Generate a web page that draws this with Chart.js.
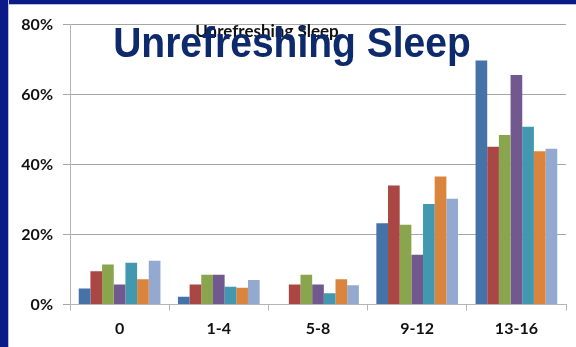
<!DOCTYPE html>
<html>
<head>
<meta charset="utf-8">
<script src="https://cdn.jsdelivr.net/npm/chart.js@4.4.1/dist/chart.umd.min.js"></script>
<style>
  html, body { margin: 0; padding: 0; background: #fff; }
  #wrap { position: relative; width: 576px; height: 347px; overflow: hidden; }
  #myChart { position: absolute; left: 0; top: 0; }
  .ramLavo { position: absolute; left: 0; top: 0; width: 8px; height: 347px; background: #0a1a86; border-right: 1px solid #b8bce0; }
  .ramHore { position: absolute; left: 0; top: 0; width: 576px; height: 4px; background: #0a1a86; border-bottom: 1px solid #b8bce0; }
</style>
</head>
<body>
<div id="wrap">
  <canvas id="myChart" width="576" height="347"></canvas>
  <div class="ramHore"></div>
  <div class="ramLavo"></div>
</div>
<script>
// Kategórie (počet bodov) a hodnoty v percentách odčítané z obrázka
const kategorie = ["0", "1-4", "5-8", "9-12", "13-16"];
const seria1 = [4.6, 2.2, 0, 23.2, 69.7];
const seria2 = [9.5, 5.7, 5.7, 34.0, 45.1];
const seria3 = [11.4, 8.5, 8.5, 22.8, 48.4];
const seria4 = [5.7, 8.5, 5.7, 14.2, 65.6];
const seria5 = [11.9, 5.1, 3.2, 28.7, 50.8];
const seria6 = [7.2, 4.8, 7.2, 36.6, 43.8];
const seria7 = [12.5, 7.0, 5.5, 30.2, 44.5];
const nazvySerii = ["Séria 1", "Séria 2", "Séria 3", "Séria 4", "Séria 5", "Séria 6", "Séria 7"];
const yTicky = [0, 20, 40, 60, 80];

const farby = ["#4572A7", "#AA4643", "#89A54E", "#71588F", "#4198AF", "#DB843D", "#93A9CF"];
const hodnoty = [seria1, seria2, seria3, seria4, seria5, seria6, seria7];

// Nadpisy cez vlastný plugin (malý nadpis grafu + veľký nadpis snímky cez neho)
const nadpisy = {
    id: "nadpisy",
    afterDraw(chart) {
        const ctx = chart.ctx;
        ctx.save();
        ctx.textAlign = "center";
        ctx.textBaseline = "alphabetic";
        ctx.fillStyle = "#111";
        ctx.font = "bold 17px Lato";
        ctx.fillText("Unrefreshing Sleep", 267, 37);
        // veľký nadpis je v origináli trochu natiahnutý na výšku
        ctx.fillStyle = "#0c2a6c";
        ctx.font = "bold 39px 'Liberation Sans'";
        ctx.translate(292, 57);
        ctx.scale(1, 1.09);
        ctx.fillText("Unrefreshing Sleep", 0, 0);
        ctx.restore();
    }
};

const ctx = document.getElementById("myChart").getContext("2d");
const myChart = new Chart(ctx, {
    type: "bar",
    data: {
        labels: kategorie,
        datasets: hodnoty.map((h, i) => ({
            label: nazvySerii[i],
            data: h,
            backgroundColor: farby[i],
            borderWidth: 0,
            categoryPercentage: 7 / 8.5,
            barPercentage: 1
        }))
    },
    options: {
        responsive: false,
        animation: false,
        layout: { padding: { left: 0, right: 10, top: 24.5, bottom: 0 } },
        plugins: {
            legend: { display: false },
            title: { display: false },
            tooltip: { enabled: false }
        },
        scales: {
            x: {
                offset: true,
                grid: {
                    offset: true,
                    drawOnChartArea: false,
                    drawTicks: true,
                    tickLength: 6,
                    color: "#b5b5b5"
                },
                border: { color: "#b5b5b5" },
                ticks: {
                    color: "#111",
                    font: { family: "Lato", weight: "bold", size: 16 },
                    padding: 9,
                    maxRotation: 0
                },
                afterFit(scale) { scale.height = 42.5; }
            },
            y: {
                min: 0,
                max: 80,
                afterBuildTicks(scale) {
                    scale.ticks = yTicky.map(v => ({ value: v }));
                },
                grid: {
                    color: "#a6a6a6",
                    tickLength: 7
                },
                border: { color: "#b5b5b5" },
                ticks: {
                    color: "#111",
                    font: { family: "Lato", weight: "bold", size: 16 },
                    padding: 10,
                    callback: v => v + "%"
                },
                afterFit(scale) { scale.width = 70; }
            }
        }
    },
    plugins: [nadpisy]
});
</script>
</body>
</html>
